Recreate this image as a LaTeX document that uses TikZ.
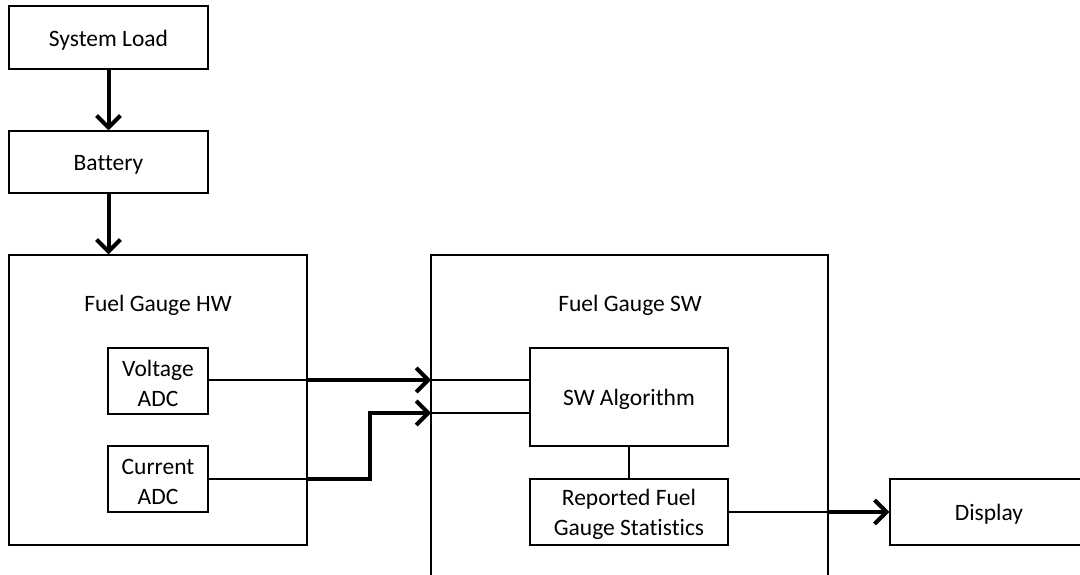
\documentclass[tikz,border=0pt]{standalone}
\usepackage{fontspec}
\setmainfont[Ligatures={NoCommon}]{Carlito}
\usetikzlibrary{arrows.meta}
\begin{document}
\begin{tikzpicture}[x=1pt,y=-1pt,
  box/.style={draw=black, line width=1.3pt, fill=none, inner sep=0pt},
  lbl/.style={font=\fontsize{23.5}{30}\selectfont, text=black, inner sep=0pt, align=center},
  tx/.style={label={[lbl,yshift=-2.5pt]center:#1}},
  thin/.style={draw=black, line width=1.3pt},
  flow/.style={draw=black, line width=4pt, -{Straight Barb[length=12pt,width=24pt]}}
]
\useasboundingbox (0,0) rectangle (1080,575);
\clip (0,0) rectangle (1080,575);
\fill[white] (0,0) rectangle (1080,575);
% top boxes
\node[box, minimum width=199pt, minimum height=63pt, tx={System Load}] (sl) at (108.5,37.5) {};
\node[box, minimum width=199pt, minimum height=62pt, tx={Battery}] (bat) at (108.5,162) {};
% HW block
\node[box, minimum width=298pt, minimum height=290pt] (hw) at (158,400) {};
\node[lbl] (hwl) at (158,305.5) {Fuel Gauge HW};
\node[box, minimum width=100pt, minimum height=66pt, tx={Voltage\\ADC}] (vadc) at (158,381) {};
\node[box, minimum width=100pt, minimum height=66pt, tx={Current\\ADC}] (cadc) at (158,479) {};
% SW block
\node[box, minimum width=397pt, minimum height=355pt] (sw) at (629.5,432.5) {};
\node[lbl] (swl) at (630,305.5) {Fuel Gauge SW};
\node[box, minimum width=198pt, minimum height=98pt, tx={SW Algorithm}] (alg) at (629,397) {};
\node[box, minimum width=198pt, minimum height=66pt, tx={Reported Fuel\\Gauge Statistics}] (rep) at (629,512) {};
% display
\node[box, minimum width=198pt, minimum height=66pt, tx={Display}] (disp) at (989,512) {};
% coordinates
\coordinate (v1) at (307,380);
\coordinate (v2) at (431,380);
\coordinate (v3) at (530,380);
\coordinate (c1) at (307,479);
\coordinate (cb) at (370,479);
\coordinate (ct) at (370,413);
\coordinate (c2) at (431,413);
\coordinate (c3) at (530,413);
\coordinate (r1) at (828,512);
% connectors
\draw[flow] (sl.south) -- (bat.north);
\draw[flow] (bat.south) -- (hw.north -| bat.south);
\draw[thin] (vadc.east |- v1) -- (v1);
\draw[flow] (v1) -- (v2);
\draw[thin] (v2) -- (v3);
\draw[thin] (cadc.east) -- (c1);
\draw[flow] (c1) -- (cb) -- (ct) -- (c2);
\draw[thin] (c2) -- (c3);
\draw[thin] (alg.south) -- (rep.north);
\draw[thin] (rep.east) -- (r1);
\draw[flow] (r1) -- (disp.west);
\end{tikzpicture}
\end{document}
